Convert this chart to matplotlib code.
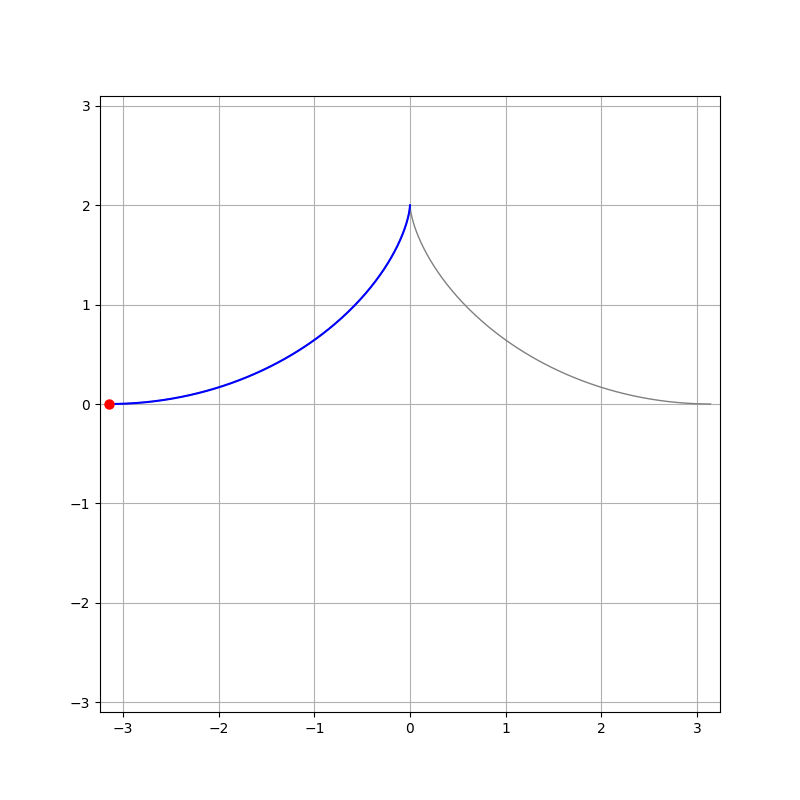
import numpy as np
import matplotlib
matplotlib.use('Agg')
import matplotlib.pyplot as plt

# inverted cycloid arch, cusp at (0, 2)
theta = np.linspace(-np.pi, np.pi, 400)
x = theta - np.sin(theta)
y = 1 + np.cos(theta)

left = theta <= 0
point_x, point_y = -np.pi, 0.0

fig = plt.figure(figsize=(8, 8), dpi=100)
ax = fig.add_subplot(111)
ax.plot(x, y, color='gray', lw=1)
ax.plot(x[left], y[left], color='blue', lw=1.5)
ax.plot(point_x, point_y, 'o', color='red', ms=6.5)
ax.set_xlim(-3.24, 3.24)
ax.set_ylim(-3.1, 3.1)
ax.grid(True)
fig.savefig('out.png')
